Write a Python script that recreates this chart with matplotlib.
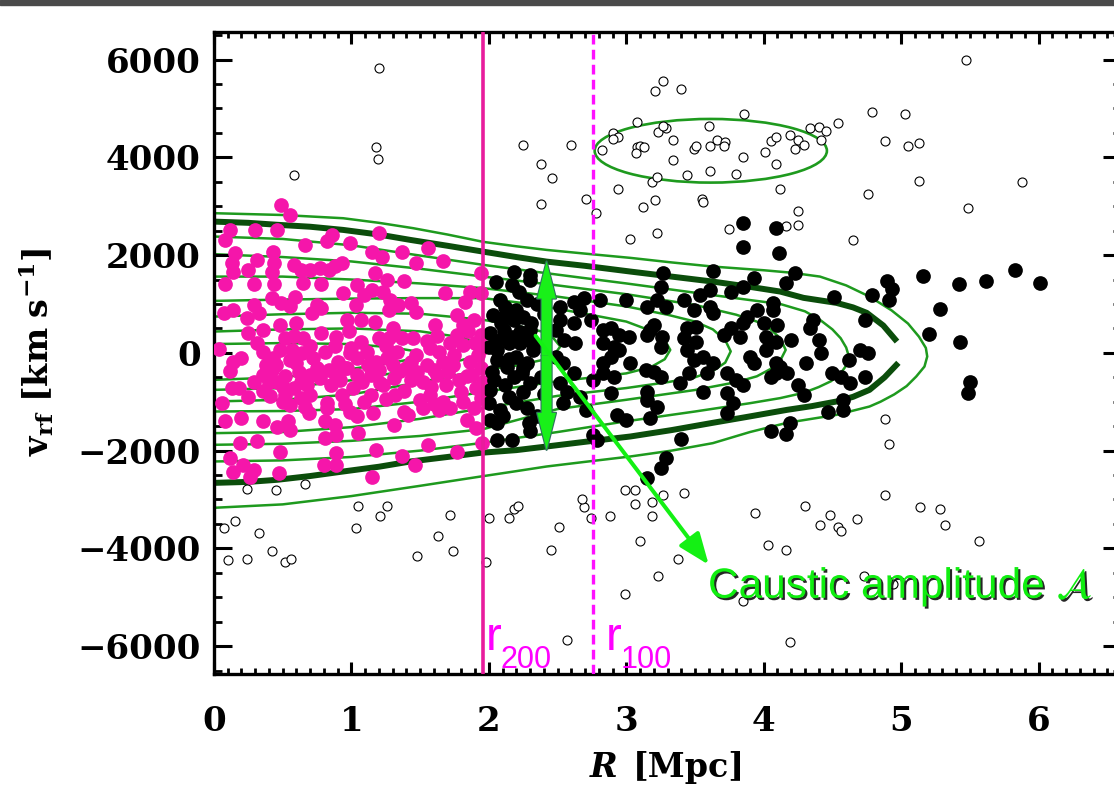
import numpy as np
import matplotlib.pyplot as plt
from matplotlib.ticker import MultipleLocator
from matplotlib.patches import Ellipse, Rectangle, FancyArrowPatch
import matplotlib.patheffects as pe

plt.rcParams['font.family'] = 'DejaVu Serif'
plt.rcParams['lines.scale_dashes'] = False

# galaxies inside r200 (R [Mpc], v_rf [km/s])
pink_pts = [
    (0.49, 3030), (0.55, 2810), (0.12, 2515), (0.08, 2310), (0.30, 2515), (0.46, 2515), (0.66, 2210),
    (0.82, 2280), (0.86, 2410), (0.99, 2240), (1.20, 2450), (1.37, 2070), (1.47, 1830), (1.56, 2150),
    (1.67, 1880), (1.94, 1630), (0.15, 2040), (0.13, 1830), (0.14, 1660), (0.25, 1700), (0.31, 1900),
    (0.43, 2070), (0.44, 1830), (0.42, 1660), (0.58, 1800), (0.63, 1700), (0.70, 1700), (0.77, 1730),
    (0.84, 1700), (0.88, 1770), (0.93, 1830), (1.15, 2070), (1.22, 1970), (1.17, 1630), (1.26, 1490),
    (1.38, 1470), (0.08, 1400), (0.29, 1400), (0.44, 1400), (0.65, 1420), (0.78, 1400), (0.94, 1220),
    (1.04, 1390), (1.09, 1190), (1.15, 1290), (1.23, 1250), (1.28, 1080), (1.34, 980), (1.43, 1020),
    (1.47, 840), (1.68, 1230), (1.83, 1040), (1.86, 1250), (1.94, 1220), (0.42, 1120), (0.49, 1020),
    (0.59, 1150), (0.55, 950), (0.29, 980), (0.33, 810), (0.24, 710), (0.07, 810), (0.14, 880),
    (0.71, 810), (0.75, 980), (0.78, 910), (1.03, 980), (0.97, 670), (1.07, 670), (1.17, 640),
    (1.27, 880), (1.61, 570), (1.77, 780), (1.81, 570), (1.89, 670), (1.94, 370), (0.04, 80),
    (0.25, 400), (0.36, 470), (0.31, 200), (0.48, 570), (0.60, 610), (0.52, 300), (0.65, 300),
    (0.78, 400), (0.89, 330), (0.98, 440), (1.07, 230), (1.27, 300), (1.37, 310), (1.45, 310),
    (1.57, 95), (1.64, 27), (1.77, 370), (1.81, 160), (1.95, 95), (0.14, -180), (0.12, -380),
    (0.36, 27), (0.43, -110), (0.48, 60), (0.57, 60), (0.64, -7), (0.72, -110), (0.81, 27),
    (0.90, -180), (0.99, -7), (1.04, -110), (1.11, 27), (1.18, -180), (1.26, -110), (1.33, 27),
    (1.43, -180), (1.47, -40), (1.55, -250), (1.67, -180), (1.74, -250), (1.86, -180), (1.94, -310),
    (0.29, -590), (0.36, -450), (0.42, -350), (0.46, -590), (0.52, -480), (0.58, -720), (0.63, -590),
    (0.70, -450), (0.77, -520), (0.84, -350), (0.89, -480), (0.97, -310), (1.04, -450), (1.14, -450),
    (1.21, -620), (1.31, -520), (1.35, -380), (1.43, -550), (1.52, -590), (1.62, -450), (1.69, -660),
    (1.78, -550), (1.84, -480), (1.91, -720), (1.96, -590), (0.13, -720), (0.18, -720), (0.36, -790),
    (0.41, -890), (0.52, -860), (0.55, -1060), (0.63, -930), (0.70, -860), (0.82, -1030), (0.93, -860),
    (1.01, -720), (1.09, -1000), (1.14, -860), (1.23, -660), (1.32, -860), (1.38, -790), (1.50, -960),
    (1.57, -860), (1.67, -1000), (1.72, -1130), (1.81, -1000), (1.89, -1130), (1.94, -930), (0.06, -1030),
    (0.08, -1400), (0.20, -1340), (0.36, -1400), (0.46, -1510), (0.54, -1400), (0.55, -1570), (0.69, -1230),
    (0.82, -1130), (0.81, -1400), (0.88, -1470), (0.99, -1200), (1.04, -1300), (1.16, -1230), (1.31, -1470),
    (1.38, -1200), (1.41, -1270), (1.52, -1130), (1.64, -1170), (1.84, -1370), (1.91, -1540), (1.95, -1850),
    (0.19, -1850), (0.31, -1810), (0.48, -2020), (0.81, -1750), (0.89, -1680), (1.05, -1640), (1.18, -1980),
    (1.37, -2120), (1.46, -2290), (1.56, -1880), (1.77, -2020), (0.12, -2150), (0.14, -2430), (0.29, -2390),
    (0.26, -2530), (0.47, -2460), (0.80, -2290), (0.89, -2290), (0.89, -2050), (1.15, -2530), (0.21, -2290),
    (0.60, -200), (0.95, -300), (1.25, 150), (1.60, -350), (0.38, -250), (0.70, 150), (1.00, 100),
    (1.40, -300), (1.75, -50), (1.90, 200), (1.55, 250), (0.50, -700), (1.20, -350), (0.85, -650),
    (0.45, -250), (0.55, -150), (0.62, -400), (0.68, -650), (0.75, -300), (0.40, -600), (0.50, -1000),
    (0.66, -1100), (0.92, -550), (1.08, -600), (1.12, -250), (1.30, -250), (1.48, -400), (1.58, -700),
    (1.70, -400), (1.80, -800), (1.88, -450), (1.92, -50), (1.72, 200), (1.62, 350), (1.30, 500),
    (1.20, 300), (0.88, 150), (0.58, 350), (0.20, -100), (0.25, -900), (0.95, -1050), (1.25, -950),
    (1.60, -1050), (1.85, 450),
]

# galaxies between r200 and the caustics (black)
black_pts = [
    (3.85, 2665), (4.09, 2550), (3.85, 2160), (4.11, 2040), (2.18, 1663), (2.30, 1595), (2.05, 1458),
    (2.17, 1390), (2.30, 1492), (3.27, 1629), (3.63, 1683), (3.93, 1527), (3.25, 1342), (3.54, 1186),
    (3.61, 1288), (3.76, 1254), (3.85, 1356), (4.07, 1015), (2.08, 1083), (2.12, 947), (2.20, 879),
    (2.28, 1083), (2.03, 777), (2.09, 606), (2.18, 674), (2.25, 743), (2.31, 606), (2.01, 402),
    (2.11, 470), (2.17, 334), (2.23, 436), (2.30, 470), (2.00, 129), (2.06, 61), (2.15, 197),
    (2.23, 197), (2.30, 265), (2.06, -144), (2.13, -280), (2.20, -76), (2.28, -212), (2.32, 61),
    (2.02, -382), (2.18, -485), (2.24, -416), (2.30, -621), (2.01, -757), (2.12, -655), (2.20, -1030),
    (2.28, -1132), (2.00, -1030), (2.08, -1166), (2.01, -1371), (2.06, -1439), (2.29, -1439), (2.30, -1609),
    (2.06, -1780), (2.17, -1780), (2.52, 947), (2.62, 1049), (2.69, 1118), (2.52, 674), (2.49, 470),
    (2.55, 265), (2.63, 197), (2.62, 606), (2.74, 674), (2.66, 879), (2.81, 1083), (3.00, 1083),
    (3.15, 947), (3.22, 1083), (3.29, 947), (3.42, 1083), (3.49, 879), (3.61, 947), (3.63, 811),
    (3.44, 504), (3.51, 538), (2.83, 470), (2.89, 504), (2.95, 368), (2.91, 129), (2.83, 197),
    (2.89, -76), (2.95, 61), (3.02, 334), (3.17, 470), (3.20, 572), (3.15, 368), (3.26, 334),
    (3.25, 129), (3.42, 300), (3.44, 61), (3.51, 231), (3.49, -144), (3.56, -76), (3.63, -212),
    (3.71, 368), (3.76, 504), (3.85, 606), (3.83, 334), (3.88, 743), (3.95, 879), (4.00, 606),
    (4.02, 334), (4.07, 879), (4.09, 231), (3.90, -76), (3.93, -212), (4.02, 61), (4.09, -212),
    (2.83, -212), (3.03, -212), (2.49, -76), (2.54, -212), (2.62, -416), (2.52, -621), (2.57, -791),
    (2.54, -1030), (2.66, -894), (2.71, -1166), (2.83, -416), (2.91, -485), (2.76, -553), (3.14, -348),
    (3.20, -382), (3.25, -485), (3.15, -791), (3.15, -962), (3.22, -1098), (3.39, -621), (3.46, -416),
    (3.59, -416), (3.73, -416), (3.80, -553), (3.73, -825), (3.78, -1030), (3.85, -655), (4.05, -485),
    (4.09, -416), (2.89, -825), (2.93, -1268), (3.00, -1371), (3.17, -1337), (3.73, -1234), (3.56, -791),
    (4.05, -1609), (3.40, -1766), (2.79, -1780), (2.76, -1677), (3.29, -2155), (3.25, -2359), (3.15, -2564),
    (2.10, 300), (2.25, -300), (2.35, 1000), (2.40, -850), (2.15, -900), (2.35, -1300),
    (2.05, 250), (2.12, 750), (2.22, 1250), (2.35, 150), (2.38, -500), (2.04, -550), (2.10, -1300),
    (2.25, -800), (2.40, 800), (2.15, -120),
    (4.23, 1629), (4.16, 1424), (4.51, 1138), (4.79, 1186), (4.90, 1479), (4.93, 1302), (4.91, 1083),
    (5.16, 1574), (5.42, 1411), (5.62, 1472), (5.83, 1697), (6.01, 1424), (5.28, 899), (4.74, 674),
    (4.36, 674), (4.34, 504), (4.10, 572), (4.20, 265), (4.40, 265), (4.42, -7), (4.31, -212),
    (4.12, -280), (4.17, -416), (4.25, -655), (4.29, -859), (4.50, -416), (4.56, -485), (4.63, -621),
    (4.62, -144), (4.70, 61), (4.76, -7), (4.74, -485), (4.58, -962), (4.47, -1200), (4.58, -1166),
    (4.19, -1439), (4.16, -1657), (5.20, 388), (5.43, 231), (5.50, -587), (5.49, -825),
]

# interlopers (open circles)
open_pts = [
    (0.58, 3640), (1.20, 5822), (1.18, 4219), (1.19, 3961),
    (2.25, 4253), (2.60, 4253), (2.38, 3858), (2.46, 3585), (2.38, 3040), (2.71, 3142), (2.78, 2870),
    (2.94, 3347), (3.03, 2324), (3.12, 2993), (3.21, 3129), (3.22, 2461), (3.19, 3504), (3.22, 3592),
    (3.21, 5365), (3.27, 5569), (3.40, 5399), (3.08, 4717), (2.90, 4506), (2.94, 4410), (2.90, 4369),
    (2.82, 4151), (3.08, 4219), (3.10, 4233), (3.13, 4206), (3.07, 4097), (3.23, 4526), (3.29, 4594),
    (3.27, 4642), (3.34, 4356), (3.34, 3947), (3.44, 3640), (3.49, 4165), (3.51, 4233), (3.61, 4233),
    (3.60, 4642), (3.66, 4356), (3.72, 4322), (3.71, 4240), (3.61, 3729), (3.80, 3660), (3.85, 4015),
    (3.86, 4881), (3.55, 3142), (3.56, 3095), (3.75, 2529), (4.01, 4104), (4.05, 4335), (4.09, 4424),
    (4.09, 3858), (4.19, 4458), (4.25, 4356), (4.29, 4254), (4.23, 4172), (4.34, 4594), (4.40, 4628),
    (4.45, 4547), (4.42, 4356), (4.54, 4710), (4.79, 4922), (5.03, 4881), (4.88, 4335), (5.05, 4233),
    (5.13, 4288), (5.47, 5992), (5.13, 3517), (5.88, 3497), (4.76, 3245), (5.49, 2972), (4.12, 3347),
    (4.25, 2911), (4.25, 2611), (4.16, 2597), (4.65, 2304),
    (0.07, -3585), (0.15, -3435), (0.10, -4247), (0.24, -4219), (0.33, -3688), (0.42, -4063),
    (0.52, -4288), (0.56, -4219), (1.05, -3129), (1.03, -3585), (1.21, -3333), (1.26, -3129),
    (0.24, -2789), (0.45, -2816), (0.66, -2686), (1.72, -3313), (1.63, -3742), (1.48, -4151),
    (1.74, -4063), (1.98, -4288), (2.00, -3381), (2.15, -3381), (2.18, -3197), (2.21, -3142),
    (2.51, -3565), (2.45, -4042), (2.57, -5869), (2.69, -3156), (2.68, -3000), (2.74, -3381),
    (2.88, -3333), (3.10, -3858), (2.99, -4928), (3.23, -4560), (3.38, -4219), (3.19, -3333),
    (3.19, -3060), (3.06, -3088), (3.94, -3279), (4.03, -3940), (3.85, -5072), (4.16, -4042),
    (4.30, -3142), (4.41, -3517), (4.48, -3313), (4.54, -3565), (4.56, -3654), (4.68, -3395),
    (5.14, -3156), (5.28, -3190), (5.32, -3517), (5.57, -3858), (4.19, -5910), (4.73, -4574),
    (4.94, -4731), (4.88, -1350), (4.91, -1862), (4.88, -2918), (2.99, -2802), (3.06, -2802),
    (3.27, -2918), (3.42, -2870),
]

# caustic (thick dark green), upper and lower branches
caustic_up = [(0, 2685), (0.25, 2660), (0.46, 2620), (0.7, 2580), (0.94, 2515), (1.2, 2420), (1.43, 2310),
              (1.7, 2190), (1.96, 2070), (2.2, 1960), (2.42, 1867), (2.7, 1780), (3.03, 1663), (3.33, 1560),
              (3.63, 1458), (3.9, 1350), (4.12, 1254), (4.29, 1125), (4.53, 1022), (4.65, 930), (4.75, 818),
              (4.87, 560), (4.97, 231)]
caustic_lo = [(4.98, -204), (4.88, -500), (4.77, -757), (4.65, -900), (4.53, -995), (4.35, -1090),
              (4.17, -1166), (3.9, -1300), (3.63, -1431), (3.33, -1580), (3.03, -1711), (2.7, -1820),
              (2.42, -1916), (2.2, -1990), (1.94, -2045), (1.7, -2130), (1.43, -2222), (1.2, -2330),
              (0.94, -2427), (0.7, -2520), (0.46, -2597), (0.25, -2640), (0, -2660)]

# density contours (thin green)
cont_outer = [(0, 2857), (0.5, 2820), (0.94, 2754), (1.2, 2660), (1.45, 2550), (1.7, 2420), (1.96, 2270),
              (2.2, 2180), (2.42, 2106), (2.7, 2030), (3.03, 1943), (3.33, 1850), (3.63, 1765), (4.0, 1690),
              (4.2, 1640), (4.41, 1560), (4.6, 1380), (4.77, 1151), (4.93, 870), (5.05, 600), (5.13, 330),
              (5.18, 100), (5.19, -75), (5.17, -280), (5.11, -484), (5.04, -680), (4.95, -850),
              (4.85, -1000), (4.77, -1098), (4.53, -1268), (4.17, -1431), (3.9, -1620), (3.63, -1847),
              (3.33, -2000), (3.03, -2120), (2.7, -2230), (2.42, -2325), (2.2, -2420), (1.94, -2530),
              (1.5, -2720), (1.0, -2930), (0.5, -3100), (0, -3170)]
cont_1 = [(0, 2380), (0.5, 2330), (1.0, 2200), (1.5, 1990), (1.96, 1800), (2.5, 1600), (3.0, 1420),
          (3.5, 1230), (3.9, 1080), (4.12, 1000), (4.3, 850), (4.41, 675), (4.5, 480), (4.56, 300),
          (4.6, 110), (4.62, -75), (4.6, -260), (4.56, -420), (4.49, -580), (4.4, -700), (4.29, -818),
          (4.12, -926), (3.9, -1030), (3.5, -1200), (3.0, -1400), (2.5, -1620), (1.96, -1840),
          (1.5, -2000), (1.0, -2130), (0.5, -2200), (0, -2222)]
cont_2 = [(0, 2018), (0.5, 1960), (1.0, 1870), (1.5, 1720), (1.96, 1560), (2.5, 1380), (3.0, 1200),
          (3.5, 980), (3.8, 780), (3.95, 640), (4.05, 480), (4.12, 300), (4.16, 60), (4.12, -160),
          (4.05, -330), (3.95, -480), (3.8, -600), (3.5, -760), (3.0, -960), (2.5, -1150),
          (1.96, -1560), (1.5, -1700), (1.0, -1800), (0.5, -1860), (0, -1881)]
cont_3 = [(0, 1560), (0.5, 1560), (1.0, 1500), (1.5, 1420), (1.96, 1323), (2.5, 1150), (3.0, 950),
          (3.3, 780), (3.5, 640), (3.63, 480), (3.72, 260), (3.76, 30), (3.72, -200), (3.63, -370),
          (3.5, -500), (3.3, -600), (3.0, -720), (2.5, -880), (1.96, -1131), (1.5, -1350), (1.0, -1520),
          (0.5, -1620), (0, -1643)]
cont_4 = [(0, 1063), (0.5, 1090), (1.0, 1110), (1.5, 1120), (1.96, 1119), (2.3, 1000), (2.7, 800),
          (3.0, 640), (3.18, 450), (3.28, 260), (3.32, 60), (3.28, -130), (3.18, -290), (3.0, -420),
          (2.7, -520), (2.5, -580), (1.96, -800), (1.5, -1000), (1.0, -1150), (0.5, -1190), (0, -1200)]
cont_5 = [(0, 742), (0.5, 790), (1.0, 820), (1.5, 800), (1.96, 675), (2.2, 560), (2.38, 440), (2.47, 300),
          (2.52, 130), (2.48, -20), (2.4, -140), (2.2, -260), (1.96, -347), (1.5, -600), (1.0, -850),
          (0.5, -960), (0, -995)]
cont_6 = [(0, 436), (0.5, 480), (1.0, 500), (1.5, 440), (1.8, 320), (1.95, 180), (2.0, 80), (1.95, -30),
          (1.8, -150), (1.5, -320), (1.0, -560), (0.5, -720), (0, -757)]
cont_7 = [(0, 180), (0.5, 200), (1.0, 180), (1.3, 110), (1.45, 40), (1.5, -40), (1.45, -120),
          (1.3, -200), (1.0, -330), (0.5, -500), (0, -552)]

# substructure ellipse (centre R, centre v, width, height)
blob = (3.615, 4134, 1.69, 1302)

r200 = 1.96
r100 = 2.755
amp_R, amp_top, amp_bot = 2.42, 1867, -1984
pointer_from = (2.34, 350)
pointer_to = (3.60, -4335)

fig = plt.figure(figsize=(11.14, 7.86), dpi=100)
fig.patches.append(Rectangle((0, 1 - 4.7 / 786), 1, 4.7 / 786, transform=fig.transFigure,
                             color='#4a4a4a', zorder=10))
ax = fig.add_axes([214 / 1114, 112 / 786, 907 / 1114, 642.3 / 786])
ax.set_xlim(0, 6.60)
ax.set_ylim(-6570, 6570)

light = '#1e9a1e'
for c in [cont_outer, cont_1, cont_2, cont_3, cont_4, cont_5, cont_6, cont_7]:
    c = np.array(c)
    ax.plot(c[:, 0], c[:, 1], color=light, lw=1.8, zorder=1, solid_joinstyle='round')
for c in [caustic_up, caustic_lo]:
    c = np.array(c)
    ax.plot(c[:, 0], c[:, 1], color='#0b4d0b', lw=4.3, zorder=1.5, solid_capstyle='butt')

ax.add_patch(Ellipse(blob[:2], blob[2], blob[3], fill=False, edgecolor=light, lw=1.9, zorder=1))

p = np.array(pink_pts)
b = np.array(black_pts)
o = np.array(open_pts)
ax.scatter(o[:, 0], o[:, 1], s=42, facecolors='white', edgecolors='black', linewidths=0.8, zorder=2)
ax.scatter(p[:, 0], p[:, 1], s=112, color='#f516aa', linewidths=0, zorder=3)
ax.scatter(b[:, 0], b[:, 1], s=112, color='black', linewidths=0, zorder=3)

ax.axvline(r200, color='#e81c9c', lw=2.6, zorder=4)
ax.axvline(r100, color='#ff10ff', lw=2.4, dashes=(7, 3.8), zorder=4)

# caustic amplitude double arrow (outline layer, then fill layer)
mid = 0.5 * (amp_top + amp_bot)
style = 'simple,head_length=2.66,head_width=1.35,tail_width=0.72'
for ec, lw in [('#2f6f5f', 1.6), ('none', 0)]:
    for end in (amp_top, amp_bot):
        ax.add_patch(FancyArrowPatch((amp_R, mid), (amp_R, end), arrowstyle=style, mutation_scale=10,
                                     facecolor='#19f019', edgecolor=ec, lw=lw, shrinkA=0, shrinkB=0,
                                     zorder=6))
ax.add_patch(FancyArrowPatch(pointer_from, pointer_to, arrowstyle='-|>,head_length=19,head_width=7.5',
                             mutation_scale=1, color='#14f014', lw=2.9, shrinkA=0, shrinkB=0, zorder=6))

ax.set_xticks(range(7))
ax.set_yticks(range(-6000, 6001, 2000))
ax.xaxis.set_minor_locator(MultipleLocator(0.1))
ax.yaxis.set_minor_locator(MultipleLocator(500))
ax.tick_params(axis='x', which='major', direction='in', top=True, length=8.6, width=2.2,
               labelsize=24.5, pad=22)
ax.tick_params(axis='x', which='minor', direction='in', top=True, length=4.3, width=2.0)
ax.tick_params(axis='y', which='major', direction='in', right=True, length=13, width=2.2,
               labelsize=24.5, pad=9.5)
ax.tick_params(axis='y', which='minor', direction='in', right=True, length=6, width=2.0)
for lbl in ax.get_xticklabels() + ax.get_yticklabels():
    lbl.set_fontweight('bold')
for s in ax.spines.values():
    s.set_linewidth(2.4)

# axis titles
fig.text(590 / 1114, 1 - 777 / 786, 'R', fontsize=24, weight='bold', style='italic', va='baseline')
fig.text(633 / 1114, 1 - 777 / 786, '[Mpc]', fontsize=24, weight='bold', va='baseline')
fig.text(36 / 1114, 1 - 352 / 786, r'$\mathbf{v_{rf}\ [km\ s^{-1}]}$', rotation=90, fontsize=24,
         ha='center', va='center', math_fontfamily='dejavuserif')

# radius labels
for x0, sub in [(486, '200'), (606, '100')]:
    fig.text(x0 / 1114, 1 - 650 / 786, 'r', fontsize=34, color='#ff00ff', family='Liberation Sans',
             va='baseline')
    fig.text((x0 + 15) / 1114, 1 - 668 / 786, sub, fontsize=22, color='#ff00ff',
             family='Liberation Sans', va='baseline')

fig.text(708 / 1114, 1 - 598 / 786, r'Caustic amplitude $\mathcal{A}$', fontsize=30.5, color='#10ee10',
         family='Liberation Sans', math_fontfamily='stix', va='baseline',
         path_effects=[pe.withSimplePatchShadow(offset=(1.5, -1.5), shadow_rgbFace='black', alpha=0.85)])

fig.savefig('out.png', dpi=100)
